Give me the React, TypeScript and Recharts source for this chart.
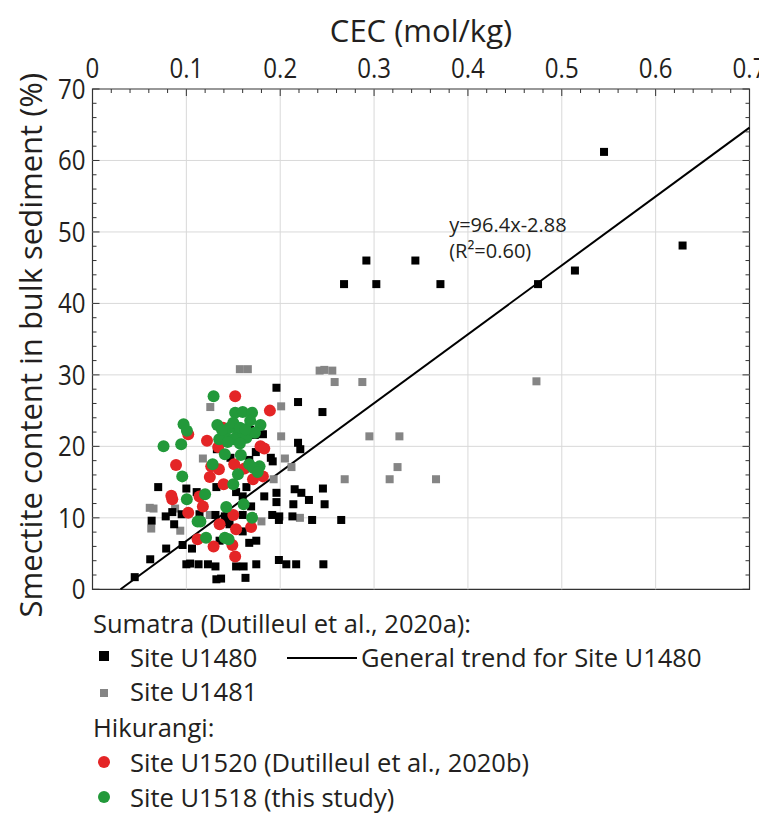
import {
  ScatterChart,
  Scatter,
  XAxis,
  YAxis,
  ReferenceLine,
  ReferenceArea,
  ReferenceDot,
  Legend,
} from 'recharts';

// [CEC mol/kg, smectite %]
const SITE_U1480: [number, number][] = [
  [0.196, 28.2], [0.07, 14.3], [0.1, 14.1], [0.111, 13.6], [0.132, 14.3], [0.174, 19.2],
  [0.19, 18.4], [0.192, 17.9], [0.063, 9.6], [0.078, 10.2], [0.085, 10.8], [0.087, 9.1],
  [0.095, 10.5], [0.0785, 5.7], [0.096, 6.2], [0.0615, 4.2], [0.045, 1.7], [0.1, 3.5],
  [0.104, 3.6], [0.106, 5.7], [0.113, 3.5], [0.123, 3.5], [0.131, 3.2], [0.153, 3.2],
  [0.161, 3.2], [0.1745, 3.5], [0.1986, 4.1], [0.2065, 3.5], [0.217, 3.5], [0.246, 3.5],
  [0.132, 1.4], [0.137, 1.5], [0.163, 1.6], [0.173, 21.6], [0.147, 18.4], [0.167, 18.1],
  [0.153, 13.6], [0.16, 13.0], [0.169, 11.6], [0.183, 13.0], [0.196, 13.5], [0.196, 12.2],
  [0.1915, 10.4], [0.199, 10.2], [0.131, 10.4], [0.141, 10.2], [0.16, 10.4], [0.146, 9.1],
  [0.167, 6.5], [0.1745, 6.8], [0.219, 26.2], [0.245, 24.8], [0.1816, 21.7], [0.219, 20.5],
  [0.2214, 19.6], [0.164, 14.3], [0.2154, 14.0], [0.2225, 13.5], [0.2455, 14.1], [0.2306, 12.5],
  [0.214, 11.9], [0.2473, 11.9], [0.213, 10.2], [0.1986, 9.7], [0.234, 9.7], [0.265, 9.7],
  [0.16, 8.1], [0.114, 10.5], [0.1425, 9.4], [0.1354, 6.8], [0.168, 22.3], [0.1325, 19.6],
  [0.545, 61.2], [0.6287, 48.1], [0.514, 44.6], [0.4747, 42.7], [0.2918, 46.0], [0.344, 46.0],
  [0.268, 42.7], [0.3024, 42.7], [0.3707, 42.7],
];

const SITE_U1481: [number, number][] = [
  [0.061, 11.4], [0.065, 11.3], [0.0626, 8.5], [0.0935, 8.2], [0.088, 11.3], [0.157, 30.8],
  [0.1655, 30.8], [0.1255, 25.5], [0.201, 25.6], [0.201, 21.4], [0.1176, 18.3], [0.205, 18.3],
  [0.193, 15.4], [0.125, 10.4], [0.171, 10.1], [0.18, 9.5], [0.242, 30.6], [0.247, 30.7],
  [0.2555, 30.6], [0.258, 29.0], [0.2875, 29.0], [0.295, 21.4], [0.327, 21.4], [0.212, 17.1],
  [0.325, 17.1], [0.2687, 15.4], [0.3166, 15.4], [0.366, 15.4], [0.221, 10.0], [0.473, 29.1],
];

const SITE_U1520: [number, number][] = [
  [0.085, 12.6], [0.084, 13.1], [0.102, 10.7], [0.112, 7.0], [0.102, 21.7], [0.089, 17.4],
  [0.152, 27.0], [0.189, 25.0], [0.122, 20.8], [0.134, 19.9], [0.139, 22.6], [0.179, 20.0],
  [0.183, 19.7], [0.1265, 17.2], [0.1347, 16.8], [0.151, 17.5], [0.162, 16.9], [0.125, 15.7],
  [0.171, 15.4], [0.1816, 15.8], [0.1397, 14.7], [0.114, 13.0], [0.1176, 11.6], [0.15, 10.4],
  [0.1354, 9.1], [0.153, 8.4], [0.169, 8.7], [0.129, 6.0], [0.149, 6.2], [0.152, 4.6],
];

const SITE_U1518: [number, number][] = [
  [0.0956, 15.8], [0.1005, 12.6], [0.112, 9.5], [0.097, 23.1], [0.1006, 22.2], [0.0757, 20.0],
  [0.0945, 20.3], [0.129, 27.0], [0.133, 23.0], [0.152, 24.7], [0.16, 24.8], [0.17, 24.7],
  [0.179, 23.0], [0.141, 21.9], [0.155, 21.7], [0.164, 21.2], [0.173, 21.9], [0.15, 21.0],
  [0.135, 21.0], [0.141, 18.9], [0.158, 18.8], [0.128, 17.5], [0.167, 17.5], [0.178, 17.2],
  [0.155, 16.1], [0.15, 14.7], [0.12, 13.3], [0.1425, 11.5], [0.161, 11.9], [0.17, 10.0],
  [0.115, 9.5], [0.121, 7.2], [0.141, 7.2], [0.146, 22.6], [0.15, 23.3], [0.157, 22.6],
  [0.163, 22.4], [0.144, 20.6], [0.157, 20.4], [0.138, 22.3], [0.168, 23.6], [0.171, 17.0],
  [0.176, 16.4], [0.145, 7.0],
];

// linear fit for Site U1480
const TREND_SLOPE = 96.4;
const TREND_INTERCEPT = -2.88;

const X_MAJOR = [0, 0.1, 0.2, 0.3, 0.4, 0.5, 0.6, 0.7];
const Y_MAJOR = [0, 10, 20, 30, 40, 50, 60, 70];
const X_TICKS = Array.from({ length: 36 }, (_, i) => Math.round(i * 2) / 100);
const Y_TICKS = Array.from({ length: 36 }, (_, i) => i * 2);

const FONT = "'Open Sans', sans-serif";
const TEXT = '#231f20';
const RED = '#e42526';
const GREEN = '#22993a';
const GRAY = '#858585';

const toPoints = (rows: [number, number][]) => rows.map(([x, y]) => ({ x, y }));

const isMajorX = (v: number) => Math.abs(v * 10 - Math.round(v * 10)) < 1e-6;
const isMajorY = (v: number) => v % 10 === 0;

// tick labels in the figure are condensed
const tickText = (x: number, y: number, anchor: string, label: string) => (
  <text
    transform={`translate(${x}, ${y}) scale(0.86, 1)`}
    textAnchor={anchor}
    fontSize={28}
    fontFamily={FONT}
    fill={TEXT}
  >
    {label}
  </text>
);

function TopTick(props: any) {
  const { x, y, payload } = props;
  const major = isMajorX(payload.value);
  return (
    <g>
      <line x1={x} y1={y} x2={x} y2={y + (major ? 7 : 4)} stroke="#333" />
      {major && tickText(x, y - 11, 'middle', String(Math.round(payload.value * 10) / 10))}
    </g>
  );
}

function BottomTick(props: any) {
  const { x, y, payload } = props;
  const len = isMajorX(payload.value) ? 7 : 4;
  return <line x1={x} y1={y} x2={x} y2={y - len} stroke="#333" />;
}

function LeftTick(props: any) {
  const { x, y, payload } = props;
  const major = isMajorY(payload.value);
  return (
    <g>
      <line x1={x} y1={y} x2={x + (major ? 7 : 4)} y2={y} stroke="#333" />
      {major && tickText(x - 7, y + 10, 'end', String(payload.value))}
    </g>
  );
}

function RightTick(props: any) {
  const { x, y, payload } = props;
  const len = isMajorY(payload.value) ? 7 : 4;
  return <line x1={x} y1={y} x2={x - len} y2={y} stroke="#333" />;
}

const square = (color: string, side: number) => (props: any) => (
  <rect x={props.cx - side / 2} y={props.cy - side / 2} width={side} height={side} fill={color} />
);
const circle = (color: string, r: number) => (props: any) => (
  <circle cx={props.cx} cy={props.cy} r={r} fill={color} />
);

function LegendBox() {
  const row = (top: number, children: any) => (
    <div style={{ position: 'absolute', top: top - 17, left: 0, height: 34, width: 751, lineHeight: '34px' }}>
      {children}
    </div>
  );
  const at = (left: number, text: string) => (
    <span style={{ position: 'absolute', left, whiteSpace: 'nowrap' }}>{text}</span>
  );
  return (
    <div style={{ position: 'relative', width: 751, height: 210, fontFamily: FONT, fontSize: 25.5, color: TEXT }}>
      {row(18, at(85, 'Sumatra (Dutilleul et al., 2020a):'))}
      {row(52, <>
        <span style={{ position: 'absolute', left: 91, top: 11, width: 10, height: 10, background: '#000' }} />
        {at(122, 'Site U1480')}
        <span style={{ position: 'absolute', left: 279, top: 17, width: 70, height: 2, background: '#000' }} />
        {at(353, 'General trend for Site U1480')}
      </>)}
      {row(86, <>
        <span style={{ position: 'absolute', left: 92, top: 15, width: 8, height: 8, background: GRAY }} />
        {at(122, 'Site U1481')}
      </>)}
      {row(122, at(85, 'Hikurangi:'))}
      {row(157, <>
        <span style={{ position: 'absolute', left: 90, top: 11, width: 12, height: 12, borderRadius: 6, background: RED }} />
        {at(122, 'Site U1520 (Dutilleul et al., 2020b)')}
      </>)}
      {row(192, <>
        <span style={{ position: 'absolute', left: 90, top: 11, width: 12, height: 12, borderRadius: 6, background: GREEN }} />
        {at(122, 'Site U1518 (this study)')}
      </>)}
    </div>
  );
}

export default function App() {
  const x0 = -TREND_INTERCEPT / TREND_SLOPE;
  const xEnd = X_MAJOR[X_MAJOR.length - 1];
  const trend = [
    { x: x0, y: 0 },
    { x: xEnd, y: TREND_SLOPE * xEnd + TREND_INTERCEPT },
  ];

  return (
    <ScatterChart width={759} height={806} margin={{ top: 21, right: 16.5, bottom: 223.7, left: 24.5 }}>
      <XAxis
        xAxisId="x"
        orientation="top"
        type="number"
        dataKey="x"
        domain={[0, 0.7]}
        ticks={X_TICKS}
        interval={0}
        height={60}
        tickSize={0}
        tickMargin={0}
        axisLine={false}
        tickLine={false}
        tick={TopTick}
        allowDataOverflow
        label={{
          content: (p: any) => (
            <text
              x={p.viewBox.x + p.viewBox.width / 2}
              y={p.viewBox.y + 12.5}
              textAnchor="middle"
              fontSize={31}
              fontFamily={FONT}
              fill={TEXT}
            >
              CEC (mol/kg)
            </text>
          ),
        }}
      />
      <XAxis
        xAxisId="xb"
        orientation="bottom"
        type="number"
        domain={[0, 0.7]}
        ticks={X_TICKS}
        interval={0}
        height={1}
        tickSize={0}
        tickMargin={0}
        axisLine={false}
        tickLine={false}
        tick={BottomTick}
        allowDataOverflow
      />
      <YAxis
        yAxisId="y"
        orientation="left"
        type="number"
        dataKey="y"
        domain={[0, 70]}
        ticks={Y_TICKS}
        interval={0}
        width={60}
        tickSize={0}
        tickMargin={0}
        axisLine={false}
        tickLine={false}
        tick={LeftTick}
        allowDataOverflow
        label={{
          content: (p: any) => {
            const cx = p.viewBox.x + 10;
            const cy = p.viewBox.y + p.viewBox.height / 2 + 6;
            return (
              <text
                x={cx}
                y={cy}
                transform={`rotate(-90, ${cx}, ${cy})`}
                textAnchor="middle"
                fontSize={31}
                fontFamily={FONT}
                fill={TEXT}
              >
                Smectite content in bulk sediment (%)
              </text>
            );
          },
        }}
      />
      <YAxis
        yAxisId="yr"
        orientation="right"
        type="number"
        domain={[0, 70]}
        ticks={Y_TICKS}
        interval={0}
        width={1}
        tickSize={0}
        tickMargin={0}
        axisLine={false}
        tickLine={false}
        tick={RightTick}
        allowDataOverflow
      />

      {X_MAJOR.slice(1, -1).map((v) => (
        <ReferenceLine key={`gx${v}`} xAxisId="x" yAxisId="y" x={v} stroke="#d9d9d9" />
      ))}
      {Y_MAJOR.slice(1, -1).map((v) => (
        <ReferenceLine key={`gy${v}`} xAxisId="x" yAxisId="y" y={v} stroke="#d9d9d9" />
      ))}

      <ReferenceLine
        xAxisId="x"
        yAxisId="y"
        segment={trend}
        stroke="#000"
        strokeWidth={2}
      />

      <Scatter name="Site U1481" xAxisId="x" yAxisId="y" data={toPoints(SITE_U1481)} shape={square(GRAY, 8)} isAnimationActive={false} />
      <Scatter name="Site U1480" xAxisId="x" yAxisId="y" data={toPoints(SITE_U1480)} shape={square('#000', 8)} isAnimationActive={false} />
      <Scatter name="Site U1520" xAxisId="x" yAxisId="y" data={toPoints(SITE_U1520)} shape={circle(RED, 6)} isAnimationActive={false} />
      <Scatter name="Site U1518" xAxisId="x" yAxisId="y" data={toPoints(SITE_U1518)} shape={circle(GREEN, 6)} isAnimationActive={false} />

      <ReferenceDot
        xAxisId="x"
        yAxisId="y"
        x={0.38}
        y={50}
        r={0}
        fill="none"
        stroke="none"
        label={{
          content: (p: any) => {
            const vx = p.viewBox.x;
            const vy = p.viewBox.y;
            return (
              <g fontFamily={FONT} fill={TEXT} fontSize={20}>
                <text x={vx} y={vy}>y=96.4x-2.88</text>
                <text x={vx} y={vy + 26}>(R²=0.60)</text>
              </g>
            );
          },
        }}
      />

      <ReferenceArea
        xAxisId="x"
        yAxisId="y"
        x1={0}
        x2={0.7}
        y1={0}
        y2={70}
        fill="none"
        stroke="#333"
        strokeWidth={1.2}
      />

      <Legend
        layout="horizontal"
        verticalAlign="middle"
        align="center"
        wrapperStyle={{ position: 'absolute', top: 597, left: 0, width: 751 }}
        content={() => <LegendBox />}
      />
    </ScatterChart>
  );
}
